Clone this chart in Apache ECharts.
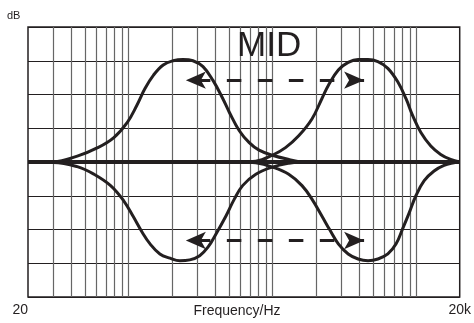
<!DOCTYPE html>
<html>
<head>
<meta charset="UTF-8">
<title>MID</title>
<script src="https://cdn.jsdelivr.net/npm/echarts@6/dist/echarts.min.js"></script>
<style>
* { padding: 0; margin: 0; }
#main { width: 474px; height: 323px; }
</style>
</head>
<body>
<div id="main"></div>
<script>
// frequency grid (Hz) and axis end labels
var freqLabels = { 20: '20', 20000: '20k' };
var gridFreqs = [30, 40, 50, 60, 70, 80, 90, 100, 200, 300, 400, 500, 600, 700, 800, 900,
  1000, 2000, 3000, 4000, 5000, 6000, 7000, 8000, 9000, 10000];

// low-mid boost
var lowBoostHz = [20, 30, 44, 61, 79, 98, 114, 130, 149, 174, 204, 239, 280, 329, 385, 452, 501, 588, 689, 807, 998, 1297, 1604, 2000];
var lowBoostDb = [0.05, 0.05, 0.7, 1.7, 2.9, 4.7, 6.7, 8.7, 10.3, 11.5, 12, 12.15, 12, 11.3, 9.7, 7.5, 5.9, 3.7, 2.3, 1.4, 0.8, 0.3, 0, 0];

// high-mid boost
var highBoostHz = [600, 766, 998, 1232, 1521, 1880, 2203, 2448, 2867, 3358, 3936, 4612, 5405, 6333, 7420, 8469, 9420, 10745, 12591, 14755, 17290, 20000];
var highBoostDb = [0, 0.1, 0.8, 1.7, 3.1, 5.1, 7.5, 9.1, 10.9, 11.8, 12.15, 12.15, 11.9, 11.1, 9.5, 7.5, 5.5, 3.5, 1.9, 0.9, 0.3, 0];

// low-mid cut
var lowCutHz = [20, 30, 44, 57.5, 75, 92.5, 108, 124, 141, 165, 194, 227, 266, 312, 356, 406, 475, 543, 620, 766, 998, 1297, 1604, 2000];
var lowCutDb = [-0.05, -0.05, -0.55, -1.45, -2.8, -4.6, -6.5, -8.3, -9.7, -10.9, -11.4, -11.7, -11.6, -11.1, -10.1, -8.5, -6.4, -4.4, -2.8, -1.45, -0.6, -0.15, 0, 0];

// high-mid cut
var highCutHz = [600, 766, 998, 1297, 1604, 1880, 2203, 2512, 2867, 3358, 3936, 4612, 5405, 6333, 7228, 8031, 8926, 9920, 11330, 13270, 15560, 18200, 20000];
var highCutDb = [0, -0.1, -0.6, -1.45, -2.8, -4.4, -6.4, -8.1, -9.7, -10.9, -11.5, -11.7, -11.5, -10.9, -9.7, -7.9, -6.0, -4.0, -2.2, -1.06, -0.4, -0.1, 0];

// flat response
var flatHz = [20, 20000];
var flatDb = [0, 0];

// sweep arrows (tips, Hz) and their levels (dB)
var arrowHz = [250, 4330];
var arrowDb = [9.7, -9.3];

var ink = '#231f20';

function pairs(hz, db) {
  return hz.map(function (f, i) { return [f, db[i]]; });
}

function curve(hz, db, width) {
  return {
    type: 'line',
    data: pairs(hz, db),
    smooth: 0.4,
    symbol: 'none',
    silent: true,
    z: 3,
    lineStyle: { color: ink, width: width }
  };
}

var chart = echarts.init(document.getElementById('main'));

chart.setOption({
  animation: false,
  title: [
    {
      text: 'MID', left: 232, top: 24,
      textStyle: { fontFamily: 'Liberation Sans', fontSize: 35, fontWeight: 'normal', color: ink }
    },
    {
      text: 'dB', left: 7, top: 10, padding: 0,
      textStyle: { fontFamily: 'Liberation Sans', fontSize: 11, fontWeight: 'normal', color: ink }
    },
    {
      text: 'Frequency/Hz', left: 'center', top: 304, padding: 0,
      textStyle: { fontFamily: 'Liberation Sans', fontSize: 14, fontWeight: 'normal', color: ink }
    }
  ],
  grid: {
    left: 28, right: 10, top: 27, bottom: 26,
    show: true, borderColor: ink, borderWidth: 1.5
  },
  xAxis: {
    type: 'log', logBase: 10, min: 20, max: 20000,
    axisLine: { show: false },
    axisTick: { show: false },
    splitLine: { show: false },
    axisLabel: {
      margin: 6,
      showMinLabel: true, showMaxLabel: true,
      alignMinLabel: 'right', alignMaxLabel: 'center',
      fontFamily: 'Liberation Sans', fontSize: 14, color: ink,
      formatter: function (v) { return freqLabels[Math.round(v)] || ''; }
    }
  },
  yAxis: {
    type: 'value', min: -16, max: 16, interval: 4,
    axisLine: { show: false },
    axisTick: { show: false },
    axisLabel: { show: false },
    splitLine: { lineStyle: { color: ink, width: 1 } }
  },
  series: [
    {
      type: 'line', data: [], silent: true,
      markLine: {
        silent: true, z: 1, symbol: 'none',
        label: { show: false },
        emphasis: { disabled: true },
        lineStyle: { color: '#666', width: 1.2, type: 'solid' },
        data: gridFreqs.map(function (f) { return { xAxis: f }; })
      }
    },
    curve(flatHz, flatDb, 4),
    curve(lowBoostHz, lowBoostDb, 3),
    curve(highBoostHz, highBoostDb, 3),
    curve(lowCutHz, lowCutDb, 3),
    curve(highCutHz, highCutDb, 3),
    {
      type: 'line', data: [], silent: true,
      markLine: {
        silent: true, z: 5,
        symbol: ['arrow', 'arrow'], symbolSize: [13, 20],
        label: { show: false },
        emphasis: { disabled: true },
        lineStyle: { color: ink, width: 3, type: [14.5, 16.5], dashOffset: 21 },
        itemStyle: { color: ink },
        data: arrowDb.map(function (d) {
          return [{ coord: [arrowHz[0], d] }, { coord: [arrowHz[1], d] }];
        })
      }
    }
  ]
});
</script>
</body>
</html>
